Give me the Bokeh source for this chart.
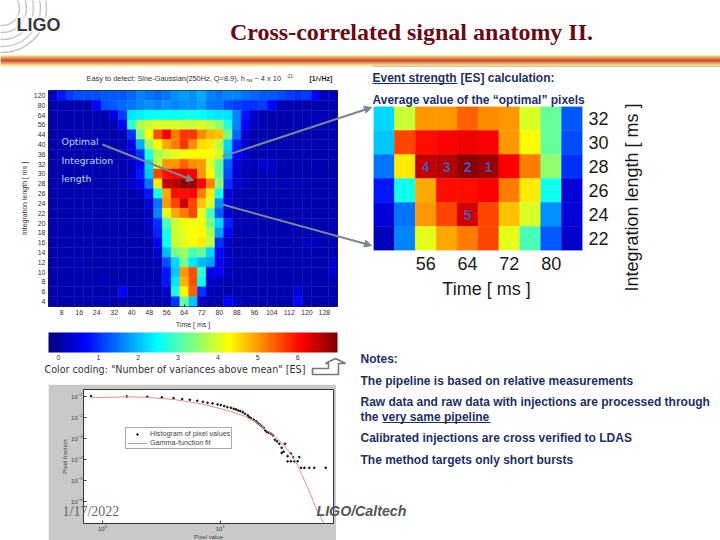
import numpy as np
from bokeh.embed import file_html
from bokeh.resources import INLINE
from bokeh.plotting import figure
from bokeh.layouts import column
from bokeh.core.properties import value
from bokeh.models import (ColumnDataSource, LinearColorMapper, ColorBar, FixedTicker,
                          FactorRange, Range1d, Arrow, NormalHead, Legend, LegendItem)

# ---------- data ----------
row_labels = ["120","80","64","56","44","40","36","32","30","28","26","24","22","20","18","16","14","12","10","8","6","4"]
time_ticks = [8,16,24,32,40,48,56,64,72,80,88,96,104,112,120,128]
time_centres = [4,8,12,16,20,24,28,32,36,40,44,48,52,56,60,64,68,72,76,80,84,88,92,96,100,104,108,112,116,120,124,128,132]

row_120 = [.3,.8,1.1,1.2,1.2,1.2,1.3,1.3,1.3,1.4,1.6,1.5,1.4,1.5,1.7,1.8,1.7,1.9,1.6,1.5,1.6,1.6,1.5,1.4,1.3,1.3,1.2,1.1,1.0,1.1,.7,.2,.2]
row_80 = [.1,.1,.1,.1,.1,.7,1.2,1.3,1.4,1.5,1.6,1.7,1.6,1.7,1.6,1.7,1.7,1.8,1.5,1.5,1.2,1.1,1.0,1.0,1.1,.7,.15,.1,.1,.1,.1,.1,.1]
row_64 = [.1,.1,.1,.1,.1,.1,.1,.5,1.1,2.3,2.4,2.5,2.5,2.5,2.5,2.6,2.6,2.5,2.4,2.3,2.3,1.6,.8,.3,.1,.1,.1,.1,.15,.1,.2,.2,.1]
row_56 = [.1,.1,.1,.1,.1,.1,.1,.1,.7,2.8,3.7,3.9,4.0,4.0,4.0,3.9,3.9,4.0,3.8,3.5,2.7,1.6,.6,.2,.1,.1,.1,.1,.1,.1,.2,.1,.1]
row_44 = [.1,.1,.1,.1,.1,.1,.1,.1,.1,1.0,3.3,4.3,5.5,6.1,5.2,5.7,5.7,5.1,4.8,4.7,3.3,1.4,.3,.1,.1,.1,.1,.1,.1,.1,.1,.1,.1]
row_40 = [.1,.1,.1,.1,.1,.1,.1,.1,.1,.5,1.9,3.6,4.3,4.9,5.2,5.7,5.1,4.5,4.4,3.8,2.2,.9,.3,.1,.1,.1,.1,.1,.1,.1,.1,.1,.1]
row_36 = [.1,.1,.1,.1,.1,.1,.1,.1,.1,.3,1.0,2.7,3.7,3.9,4.1,4.2,4.3,4.3,4.3,4.0,2.1,.7,.3,.1,.1,.2,.1,.1,.1,.1,.1,.1,.1]
row_32 = [.1,.1,.1,.1,.1,.1,.1,.1,.1,.2,.7,2.2,3.9,5.0,5.0,5.4,5.1,5.0,4.0,3.2,1.3,.4,.2,.2,.3,.3,.1,.1,.1,.1,.1,.1,.1]
row_30 = [.1,.1,.1,.1,.1,.1,.1,.1,.1,.2,.8,2.1,5.6,6.0,6.1,6.2,6.1,5.0,4.3,3.2,1.2,.3,.2,.1,.2,.2,.1,.1,.1,.1,.1,.1,.1]
row_28 = [.1,.1,.1,.1,.1,.1,.1,.1,.2,.3,.5,1.5,4.4,6.5,6.6,6.9,6.8,6.1,5.2,3.5,1.0,.3,.2,.1,.1,.2,.1,.2,.2,.1,.1,.1,.1]
row_26 = [.1,.1,.1,.1,.1,.1,.1,.1,.1,.1,.2,.8,2.6,4.9,6.0,6.0,6.1,5.2,4.4,2.6,.4,.2,.1,.1,.1,.1,.1,.1,.1,.1,.1,.1,.1]
row_24 = [.1,.1,.1,.1,.1,.1,.1,.1,.1,.1,.1,.4,1.5,5.0,5.6,6.4,5.6,4.7,4.0,1.7,.4,.2,.1,.1,.1,.1,.1,.1,.1,.1,.1,.1,.1]
row_22 = [.1,.1,.1,.1,.1,.1,.1,.1,.1,.1,.1,.2,1.6,4.1,4.9,5.2,5.6,4.1,3.0,1.3,.3,.1,.1,.1,.1,.1,.1,.1,.1,.1,.1,.1,.1]
row_20 = [.1,.1,.1,.1,.1,.1,.1,.1,.1,.1,.1,.3,1.0,3.0,3.9,4.2,4.2,4.2,3.3,2.2,.9,.2,.1,.1,.1,.1,.1,.1,.1,.1,.1,.1,.1]
row_18 = [.1,.1,.1,.1,.1,.1,.1,.1,.1,.1,.1,.2,.9,2.6,3.9,4.1,4.3,4.3,3.7,1.8,.6,.1,.1,.1,.1,.1,.1,.1,.1,.1,.1,.1,.1]
row_16 = [.1,.1,.1,.1,.1,.1,.1,.1,.1,.1,.1,.1,.6,2.5,3.9,4.1,4.3,4.4,3.8,1.0,.3,.1,.1,.1,.1,.1,.1,.1,.1,.2,.2,.1,.1]
row_14 = [.1,.1,.1,.1,.1,.1,.1,.1,.1,.1,.1,.1,.3,2.0,3.3,3.6,3.0,3.2,2.2,.7,.2,.1,.1,.1,.1,.1,.1,.1,.1,.1,.1,.1,.1]
row_12 = [.1,.1,.1,.2,.1,.1,.1,.1,.1,.1,.1,.1,.1,1.2,2.2,3.3,2.3,2.0,1.8,.5,.3,.1,.1,.1,.1,.1,.1,.1,.1,.1,.1,.1,.3]
row_10 = [.1,.1,.1,.1,.1,.1,.1,.1,.1,.1,.1,.1,.1,.8,2.1,5.0,5.5,2.8,.5,.6,.2,.1,.1,.1,.1,.1,.1,.1,.1,.1,.1,.1,.3]
row_8 = [.1,.1,.1,.1,.1,.1,.2,.1,.1,.1,.1,.1,.1,.8,2.3,4.8,5.5,2.5,.3,.2,.1,.1,.1,.1,.1,.1,.1,.1,.1,.1,.1,.1,.1]
row_6 = [.1,.1,.1,.1,.1,.1,.1,.1,.7,.1,.1,.1,.1,.3,2.6,4.3,5.4,1.0,.2,.1,.1,.1,.1,.1,.1,.1,.1,.1,.4,.1,.1,.1,.1]
row_4 = [.1,.1,.1,.1,.1,.1,.2,.1,.1,.1,.1,.1,.1,.1,1.0,3.2,2.1,.3,.1,.1,.7,.3,.1,.1,.1,.1,.1,.1,.7,.1,.1,.1,.1]
heat_rows = [row_120,row_80,row_64,row_56,row_44,row_40,row_36,row_32,row_30,row_28,row_26,row_24,
             row_22,row_20,row_18,row_16,row_14,row_12,row_10,row_8,row_6,row_4]

inset_times = [48,52,56,60,64,68,72,76,80,84]
inset_labels = ["32","30","28","26","24","22"]
inset_32 = [2.2,3.9,5.0,5.0,5.4,5.1,5.0,4.0,3.2,1.3]
inset_30 = [2.1,5.6,6.0,6.1,6.2,6.1,5.0,4.3,3.2,1.2]
inset_28 = [1.5,4.4,6.5,6.6,6.9,6.8,6.1,5.2,3.5,1.0]
inset_26 = [.8,2.6,4.9,6.0,6.0,6.1,5.2,4.4,2.6,.4]
inset_24 = [.4,1.5,5.0,5.6,6.4,5.6,4.7,4.0,1.7,.4]
inset_22 = [.2,1.6,4.1,4.9,5.2,5.6,4.1,3.0,1.3,.3]
inset_rows = [inset_32,inset_30,inset_28,inset_26,inset_24,inset_22]
pixel_time = [56,60,64,68,64]
pixel_len = ["28","28","28","28","24"]
pixel_num = ["4","3","2","1","5"]

hist_x = [.80,1.61,2.4,3.19,4.01,4.75,5.52,6.38,7.12,7.8,8.6,9.49,10.1,10.8,11.5,12.3,13.0,13.6,14.2,14.8,15.5,16.2,17.1,17.6,18.2,19.2,20.1,20.8,21.6,22.4,23.4,24.1,24.9,25.9,27,28,29.1,30.3,31.7,33.2,35.5,34.5,33.2,37.3,39.8,41.5,37.3,39.8,42.6,45.4,46.9,48.5,51.8,57,62.9,78.5]
hist_y = [.104,.100,.0964,.0896,.0833,.0746,.0693,.0621,.0556,.0498,.0463,.0415,.0386,.0345,.0309,.0287,.0257,.0239,.0214,.0199,.0178,.0149,.0124,.0103,.00923,.00771,.0064,.00532,.00459,.00383,.00318,.00237,.00198,.00184,.00165,.00137,.00085,.00071,.00055,.00035,.00055,.00023,.00020,.00014,.00019,.000126,.000079,.000079,.000079,.000079,.000126,.000039,.000039,.000039,.000039,.000039]
fit_x = [.80,1.61,2.4,4.01,7.12,10.1,12.3,16,20.8,27,32.8,39.8,45.4,51.8,58.9,67,76.4]
fit_y = [.0863,.0964,.0896,.0719,.0430,.0257,.0192,.0115,.00532,.00165,.00066,.00018,.00005,.0000098,.0000019,.0000003,.000000085]
colorbar_ticks = [0,1,2,3,4,5,6]
pixel_axis_x = [1,10]
pixel_axis_y = [1e-1,1e-2,1e-3,1e-4,1e-5,1e-6]

# ---------- palette ----------
def jet(n=256):
    t = np.linspace(0, 1, n)
    r = np.clip(np.minimum(4*t-1.5, -4*t+4.5), 0, 1)
    g = np.clip(np.minimum(4*t-0.5, -4*t+3.5), 0, 1)
    b = np.clip(np.minimum(4*t+0.5, -4*t+2.5), 0, 1)
    return ["#%02x%02x%02x" % (int(a*255), int(c*255), int(d*255)) for a, c, d in zip(r, g, b)]
mapper = LinearColorMapper(palette=jet(), low=-0.25, high=7)

ROOT_LEFT = -40
def place(left, top):
    return {"position": "absolute", "left": f"{left-ROOT_LEFT}px", "top": f"{top}px"}

NAVY = "#1c2f66"
# ---------- main heat map ----------
src = dict(x=[], y=[], v=[])
for lab, vals in zip(row_labels, heat_rows):
    for t, v in zip(time_centres, vals):
        src["x"].append(t); src["y"].append(lab); src["v"].append(v)
heat = figure(frame_width=289, frame_height=216, output_backend="svg", toolbar_location=None,
              x_range=Range1d(2, 134), y_range=FactorRange(factors=row_labels[::-1], range_padding=0),
              min_border_left=35, min_border_right=10, min_border_top=20, min_border_bottom=22,
              styles=place(13, 70), tools="")
heat.rect("x", "y", width=4, height=1, source=ColumnDataSource(src),
          fill_color={"field": "v", "transform": mapper},
          line_color={"field": "v", "transform": mapper}, line_width=0.4)
heat.grid.visible = False
heat.xaxis.ticker = FixedTicker(ticks=time_ticks)
heat.xaxis.axis_label = "Time [ ms ]"
heat.yaxis.axis_label = "Integration length [ ms ]"
for ax in (heat.xaxis, heat.yaxis):
    ax.major_label_text_font_size = "7px"
    ax.major_label_text_color = "#333333"
    ax.major_label_standoff = 3
    ax.axis_label_text_font_size = "7px"
    ax.axis_label_text_font_style = "normal"
    ax.axis_label_text_color = "#333333"
    ax.axis_label_standoff = 3
    ax.axis_line_color = None
    ax.major_tick_in = 2
    ax.major_tick_out = 0
    ax.major_tick_line_color = "#222222"
    ax.minor_tick_line_color = None
heat.outline_line_color = "#222222"

# ---------- inset heat map ----------
src2 = dict(x=[], y=[], v=[])
for lab, vals in zip(inset_labels, inset_rows):
    for t, v in zip(inset_times, vals):
        src2["x"].append(t); src2["y"].append(lab); src2["v"].append(v)
inset = figure(frame_width=209, frame_height=144, output_backend="svg", toolbar_location=None,
               x_range=Range1d(46, 86), y_range=FactorRange(factors=inset_labels[::-1], range_padding=0),
               y_axis_location="right", min_border_left=35, min_border_right=50, min_border_top=0,
               min_border_bottom=32, styles=place(338, 106), tools="")
inset.rect("x", "y", width=4, height=1, source=ColumnDataSource(src2),
           fill_color={"field": "v", "transform": mapper},
           line_color={"field": "v", "transform": mapper}, line_width=0.4)
inset.text(pixel_time, pixel_len, text=pixel_num, text_color="#4a55b5", text_font_size="14px",
           text_font_style="bold", text_align="center", text_baseline="middle",
           text_font=value("Liberation Sans"))
inset.grid.visible = False
inset.xaxis.ticker = FixedTicker(ticks=[56,64,72,80])
for ax in (inset.xaxis, inset.yaxis):
    ax.major_label_text_font_size = "18px"
    ax.major_label_text_font = "Liberation Sans"
    ax.major_label_text_color = "#1a1a1a"
    ax.major_label_standoff = 6
    ax.major_tick_out = 0
    ax.major_tick_in = 0
    ax.axis_line_color = None
    ax.major_tick_line_color = None
    ax.minor_tick_line_color = None
inset.outline_line_color = None

# ---------- histogram ----------
scat = figure(frame_width=250, frame_height=134, output_backend="svg", toolbar_location=None,
              x_axis_type="log", y_axis_type="log",
              x_range=Range1d(0.69, 91.5), y_range=Range1d(8.5e-8, 0.214),
              min_border_left=35, min_border_right=3, min_border_top=5, min_border_bottom=16,
              border_fill_color="#c9c9c9", styles=place(48, 384), tools="")
dots = scat.scatter(hist_x, hist_y, size=1.7, color="#111111", marker="circle")
fit = scat.line(fit_x, fit_y, line_color="#e58c8c", line_width=1)
scat.grid.visible = False
scat.xaxis.ticker = FixedTicker(ticks=pixel_axis_x)
scat.yaxis.ticker = FixedTicker(ticks=pixel_axis_y)
scat.xaxis.axis_label = "Pixel value"
scat.yaxis.axis_label = "Pixel fraction"
for ax in (scat.xaxis, scat.yaxis):
    ax.major_label_text_font_size = "6px"
    ax.major_label_text_color = "#444444"
    ax.major_label_standoff = 1
    ax.axis_label_text_font_size = "6px"
    ax.axis_label_text_font_style = "normal"
    ax.axis_label_text_color = "#444444"
    ax.axis_label_standoff = 0
    ax.axis_line_color = None
    ax.major_tick_in = 3
    ax.major_tick_out = 0
    ax.major_tick_line_color = "#444444"
scat.outline_line_color = "#333333"
leg = Legend(items=[LegendItem(label="Histogram of pixel values", renderers=[dots]),
                    LegendItem(label="Gamma-function fit", renderers=[fit])],
             location=(42, 74), label_text_font_size="7.2px", label_text_color="#444444",
             glyph_height=4, glyph_width=20, label_height=4, spacing=-3, padding=1, margin=0,
             label_standoff=3, border_line_color="#555555", background_fill_alpha=1)
scat.add_layout(leg, "center")

# ---------- overlay: slide furniture, text and arrows ----------
over = figure(frame_width=720, frame_height=540, output_backend="svg", toolbar_location=None,
              x_range=Range1d(0, 720), y_range=Range1d(540, 0),
              x_axis_location=None, y_axis_location=None,
              min_border=0, min_border_left=35, min_border_right=0, min_border_top=0, min_border_bottom=0,
              background_fill_alpha=0, border_fill_alpha=0,
              outline_line_color=None, styles=place(-35, 0), tools="")
over.grid.visible = False

# header band
band_y = [55.5,56.5,57.5,58.5,59.5,60.5,61.5,62.5,63.5,64.5,65.5]
band_c = ["#f3c96a","#eaa032","#e27a18","#d24e0c","#b81c08","#b81408","#cf4a0c","#e27a18","#eaa032","#f3c96a","#fbe79a"]
over.rect(360, band_y, width=720, height=1.1, fill_color=band_c, line_color=None)
over.rect(546, 65.7, width=348, height=1.2, fill_color="#d9b98c", line_color=None)

# logo
over.circle([2]*5, [8]*5, radius=[17,24,31,38,44], fill_color=None, line_color="#c4c4c4", line_width=1.4)
over.rect(38, 24, width=46, height=16, fill_color="white", fill_alpha=0.75, line_color=None)
over.text([16], [24], text=["LIGO"], text_font=value("Liberation Sans"), text_font_style="bold",
          text_font_size="18px", text_color="#3a3a3a", text_baseline="middle")

def label(x, y, s, size, color, font="Liberation Sans", style="normal", align="left", angle=0):
    over.text([x], [y], text=[s], text_font=value(font), text_font_style=style, text_font_size=size,
              text_color=color, text_align=align, text_baseline="middle", angle=angle)

label(411, 31, "Cross-correlated signal anatomy II.", "24px", "#6b0a12", "Liberation Serif", "bold", "center")

# right column
label(372, 77, "Event strength", "12px", NAVY, style="bold")
label(460, 77, "[ES] calculation:", "12px", NAVY, style="bold")
over.line([372, 457], [83, 83], line_color=NAVY, line_width=1)
label(372, 99, "Average value of the \u201coptimal\u201d pixels", "12px", NAVY, style="bold")
label(360, 358, "Notes:", "12px", NAVY, style="bold")
label(360, 380, "The pipeline is based on relative measurements", "12px", NAVY, style="bold")
label(360, 401, "Raw data and raw data with injections are processed through", "12px", NAVY, style="bold")
label(360, 416, "the very same pipeline", "12px", NAVY, style="bold")
over.line([382, 490], [422, 422], line_color=NAVY, line_width=1)
label(360, 437, "Calibrated injections are cross verified to LDAS", "12px", NAVY, style="bold")
label(360, 459, "The method targets only short bursts", "12px", NAVY, style="bold")

# inset axis labels
label(486, 288, "Time [ ms ]", "18px", "#1a1a1a", align="center")
label(631, 197, "Integration length [ ms ]", "18px", "#1a1a1a", align="center", angle=np.pi/2)

# main title
label(86, 78, "Easy to detect: Sine-Gaussian(250Hz, Q=8.9), h", "7.4px", "#333333")
label(246, 80, "rss", "4.5px", "#333333")
label(254, 78, "~ 4 x 10", "7.4px", "#333333")
label(286, 75, "-21", "4.5px", "#333333")
label(309, 78, "[1/\u221aHz]", "7px", "#222222", style="bold")

# annotations on heat map
label(61, 141, "Optimal", "9.4px", "#bcd4f2", "DejaVu Sans")
label(61, 160, "Integration", "9.4px", "#bcd4f2", "DejaVu Sans")
label(61, 178, "length", "9.4px", "#bcd4f2", "DejaVu Sans")

# colour bar
cb = ColorBar(color_mapper=mapper, ticker=FixedTicker(ticks=colorbar_ticks), location=(48, 178),
              orientation="horizontal", width=289, height=20, padding=0, margin=0,
              major_label_text_font_size="7px", major_label_text_color="#333333",
              major_tick_line_color=None, minor_tick_line_color=None, bar_line_color=None,
              background_fill_alpha=0, label_standoff=2)
over.add_layout(cb, "center")
label(44, 369, 'Color coding: "Number of  variances above mean" [ES]', "9.6px", "#333333", "DejaVu Sans")

# connecting arrows
for x0, y0, x1, y1 in [(102,144,193,180), (222,156,371,107), (222,204,371,245)]:
    over.add_layout(Arrow(x_start=x0, y_start=y0, x_end=x1, y_end=y1, line_color="#7d8794", line_width=2,
                          end=NormalHead(size=7, fill_color="#7d8794", line_color="#7d8794")))

# block arrow next to the caption
over.patch([312,328,328,325,335,345,338,338,312], [368,368,363,363,358,363,363,374,374],
           fill_color="white", line_color="#777777", line_width=1.6)

# footer
label(62, 511, "1/17/2022", "14px", "#666666", "Liberation Serif")
label(316, 510, "LIGO/Caltech", "14.2px", "#555555", style="bold italic")

root = column(heat, inset, scat, over, width=720-ROOT_LEFT, height=540,
              styles={"position": "absolute", "left": f"{ROOT_LEFT}px", "top": "0px", "overflow": "hidden"})
open("out.html", "w").write(file_html(root, INLINE))
